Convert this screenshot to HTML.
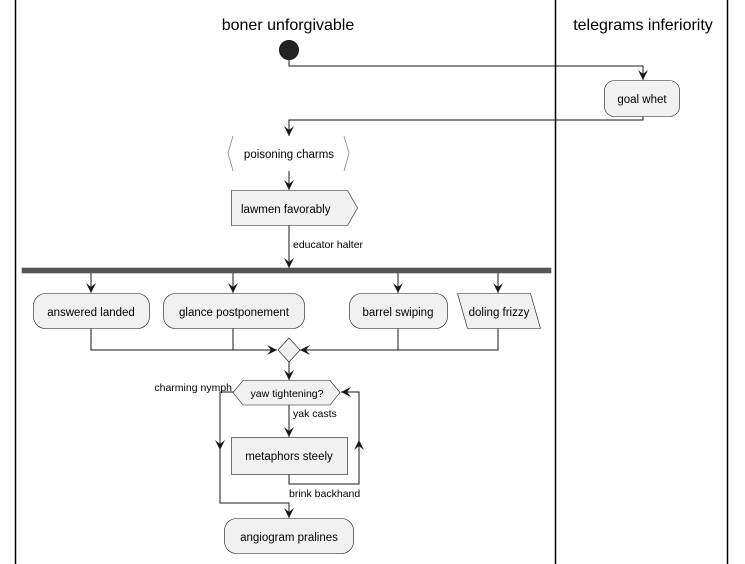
<!DOCTYPE html>
<html><head><meta charset="utf-8"><style>
html,body{margin:0;padding:0;background:#fff;}
svg{display:block;}
text{font-family:"Liberation Sans",sans-serif;fill:#000;}
</style></head><body>
<svg width="745" height="564" viewBox="0 0 745 564" xmlns="http://www.w3.org/2000/svg">
<defs>
<marker id="a" viewBox="0 0 10 10" refX="10" refY="5" markerWidth="10" markerHeight="10" markerUnits="userSpaceOnUse" orient="auto">
<path d="M0,0 L10,5 L0,10 L4,5 Z" fill="#181818"/>
</marker>
</defs>
<g stroke="#000" stroke-width="1.5">
<line x1="15.5" y1="0" x2="15.5" y2="564"/>
<line x1="555.5" y1="0" x2="555.5" y2="564"/>
<line x1="727.5" y1="0" x2="727.5" y2="564"/>
</g>
<text x="288" y="30" font-size="16" text-anchor="middle" font-weight="500">boner unforgivable</text>
<text x="643" y="30" font-size="16" text-anchor="middle" font-weight="500">telegrams inferiority</text>

<g fill="none" stroke="#181818" stroke-width="1">
<circle cx="289" cy="50" r="9.5" fill="#222"/>
<polyline points="289,59 289,66 643,66 643,80" marker-end="url(#a)"/>
<polyline points="643,116 643,120 289,120 289,136" marker-end="url(#a)"/>
<line x1="289" y1="171" x2="289" y2="190" marker-end="url(#a)"/>
<line x1="289" y1="225" x2="289" y2="268" marker-end="url(#a)"/>
<line x1="91" y1="273" x2="91" y2="293" marker-end="url(#a)"/>
<line x1="233" y1="273" x2="233" y2="293" marker-end="url(#a)"/>
<line x1="398" y1="273" x2="398" y2="293" marker-end="url(#a)"/>
<line x1="498" y1="273" x2="498" y2="293" marker-end="url(#a)"/>
<polyline points="91,328 91,350 277,350" marker-end="url(#a)"/>
<line x1="233" y1="328" x2="233" y2="350"/>
<polyline points="498,328 498,350 300,350" marker-end="url(#a)"/>
<line x1="398" y1="328" x2="398" y2="350"/>
<line x1="289" y1="362" x2="289" y2="380" marker-end="url(#a)"/>
<line x1="289" y1="405" x2="289" y2="437" marker-end="url(#a)"/>
<polyline points="289,474 289,484 359,484 359,392 341,392" marker-end="url(#a)"/>
<line x1="359" y1="460" x2="359" y2="440" marker-end="url(#a)"/>
<polyline points="233,392 220,392 220,503 289,503 289,518" marker-end="url(#a)"/>
<line x1="220" y1="430" x2="220" y2="450" marker-end="url(#a)"/>
</g>

<g fill="#f1f1f1" stroke="#181818" stroke-width="0.6">
<rect x="604.5" y="80.5" width="75" height="36" rx="10"/>
<rect x="22" y="268" width="529" height="5" fill="#555" stroke="#555"/>
<rect x="33.5" y="293.5" width="116" height="35" rx="12"/>
<rect x="163.5" y="293.5" width="141" height="35" rx="12"/>
<rect x="349.5" y="293.5" width="98" height="35" rx="12"/>
<polygon points="457.5,293.5 530.5,293.5 540.5,328.5 467.5,328.5"/>
<polygon points="289,338 300,350 289,362 278,350"/>
<polygon points="231.5,190.5 347.5,190.5 357.5,208 347.5,225.5 231.5,225.5"/>
<polygon points="243,380.5 330,380.5 340,392.5 330,405 243,405 233,392.5"/>
<rect x="231.5" y="437.5" width="116" height="37"/>
<rect x="224.5" y="518.5" width="129" height="35" rx="12"/>
</g>
<g fill="none" stroke="#888" stroke-width="0.8">
<polyline points="233,136 228,153 233,171"/>
<polyline points="344,136 349,153 344,171"/>
</g>

<g font-size="11.5">
<text x="642" y="103" text-anchor="middle">goal whet</text>
<text x="289" y="158" text-anchor="middle">poisoning charms</text>
<text x="241" y="213">lawmen favorably</text>
<text x="293" y="248" font-size="10.5">educator halter</text>
<text x="91" y="316" text-anchor="middle">answered landed</text>
<text x="234" y="316" text-anchor="middle">glance postponement</text>
<text x="398" y="316" text-anchor="middle">barrel swiping</text>
<text x="499" y="316" text-anchor="middle">doling frizzy</text>
<text x="287" y="397" text-anchor="middle" font-size="10.5">yaw tightening?</text>
<text x="232" y="391" font-size="10.5" text-anchor="end">charming nymph</text>
<text x="293" y="417" font-size="10.5">yak casts</text>
<text x="289" y="460" text-anchor="middle">metaphors steely</text>
<text x="289" y="497" font-size="10.5">brink backhand</text>
<text x="289" y="541" text-anchor="middle">angiogram pralines</text>
</g>
</svg>
</body></html>
